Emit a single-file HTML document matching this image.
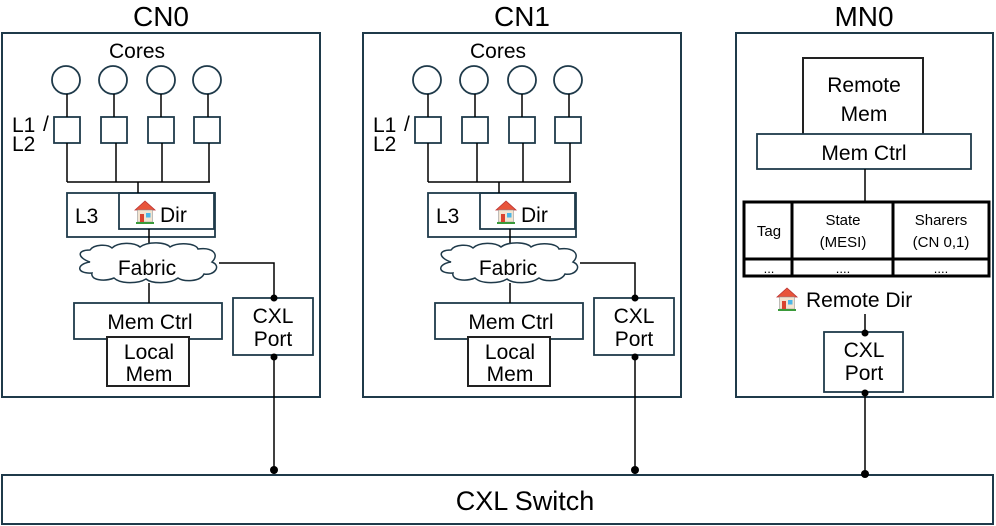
<!DOCTYPE html>
<html><head><meta charset="utf-8"><style>
html,body{margin:0;padding:0;background:#fff;}
svg{display:block;font-family:"Liberation Sans",sans-serif;}
</style></head><body>
<svg width="996" height="526" viewBox="0 0 996 526" xmlns="http://www.w3.org/2000/svg">
<defs>
<g id="house">
  <polygon points="0,9 10,0 20,9" fill="#e8553b" stroke="#b33" stroke-width="0.8"/>
  <rect x="2.5" y="9" width="15" height="12" fill="#f3e4d0" stroke="#999" stroke-width="0.6"/>
  <rect x="5" y="13" width="4" height="8" fill="#d9432e"/>
  <rect x="11" y="12" width="4.5" height="4.5" fill="#4ab6e8"/>
  <rect x="1" y="21" width="18" height="2" fill="#3a9a3a"/>
</g>
<g id="cn">
  <rect x="2" y="33" width="318" height="364" fill="none" stroke="#1f3a4a" stroke-width="2"/>
  <text x="137" y="58" font-size="21" text-anchor="middle">Cores</text>
  <g fill="none" stroke="#1f3a4a" stroke-width="1.8">
    <circle cx="66" cy="80" r="14"/><circle cx="113" cy="80" r="14"/><circle cx="161" cy="80" r="14"/><circle cx="207" cy="80" r="14"/>
    <rect x="54" y="117" width="26" height="26"/><rect x="101" y="117" width="26" height="26"/><rect x="148" y="117" width="26" height="26"/><rect x="194" y="117" width="26" height="26"/>
    <rect x="67" y="193" width="148" height="44"/>
    <rect x="119" y="193" width="95" height="36"/>
    <rect x="74" y="303" width="148" height="36"/>
    <rect x="233" y="298" width="80" height="57"/>
  </g>
  <rect x="107" y="337" width="82" height="49" fill="#fff" stroke="#222" stroke-width="2"/>
  <g stroke="#000" stroke-width="1.5" fill="none">
    <path d="M67 94V117M114 94V117M161 94V117M208 94V117"/>
    <path d="M67 143V182M116 143V182M162 143V182M209 143V182M67 182H210M138 182V193"/>
    <path d="M149 229V252M149 283V303M219 263H274V298M274 357V474"/>
  </g>
  <path d="M90 262 C78 258 76 250 90 250 C94 244 108 244 112 248 C118 242 134 242 140 247 C148 241 166 242 170 247 C178 242 196 243 198 249 C212 247 220 254 212 262 C222 266 214 276 204 274 C200 282 184 282 178 278 C170 284 152 284 146 279 C138 284 120 284 114 278 C104 282 90 280 92 273 C76 274 76 264 90 262Z" fill="#fff" stroke="#1f3a4a" stroke-width="1.5"/>
  <text x="147" y="275" font-size="21" text-anchor="middle">Fabric</text>
  <text x="75" y="223" font-size="21">L3</text>
  <use href="#house" x="135" y="201"/>
  <text x="160" y="222" font-size="21">Dir</text>
  <text x="12" y="132" font-size="21">L1</text>
  <text x="12" y="151" font-size="21">L2</text>
  <text x="43" y="131" font-size="21">/</text>
  <text x="150" y="329" font-size="21" text-anchor="middle">Mem Ctrl</text>
  <text x="149" y="359" font-size="21" text-anchor="middle">Local</text>
  <text x="149" y="381" font-size="21" text-anchor="middle">Mem</text>
  <text x="273" y="323" font-size="21" text-anchor="middle">CXL</text>
  <text x="273" y="346" font-size="21" text-anchor="middle">Port</text>
  <circle cx="274" cy="298" r="3.5"/><circle cx="274" cy="357" r="3.5"/><circle cx="274" cy="470" r="4"/>
</g>
</defs>
<text x="161" y="26" font-size="28" text-anchor="middle">CN0</text>
<text x="522" y="26" font-size="28" text-anchor="middle">CN1</text>
<text x="864" y="26" font-size="28" text-anchor="middle">MN0</text>
<use href="#cn"/>
<use href="#cn" x="361"/>
<!-- MN0 -->
<rect x="736" y="33" width="257" height="364" fill="none" stroke="#1f3a4a" stroke-width="2"/>
<rect x="803" y="58" width="120" height="80" fill="#fff" stroke="#222" stroke-width="2"/>
<text x="864" y="92" font-size="21" text-anchor="middle">Remote</text>
<text x="864" y="121" font-size="21" text-anchor="middle">Mem</text>
<rect x="757" y="134" width="214" height="35" fill="#fff" stroke="#1f3a4a" stroke-width="1.8"/>
<text x="864" y="160" font-size="21" text-anchor="middle">Mem Ctrl</text>
<path d="M865 169V202M865 314V333M865 393V474" stroke="#000" stroke-width="1.5"/>
<g fill="none" stroke="#000" stroke-width="3">
  <rect x="744" y="202" width="245" height="74"/>
  <path d="M792 202V276M893 202V276M744 259H989"/>
</g>
<text x="769" y="236" font-size="15" text-anchor="middle">Tag</text>
<text x="843" y="225" font-size="15" text-anchor="middle">State</text>
<text x="843" y="247" font-size="15" text-anchor="middle">(MESI)</text>
<text x="941" y="225" font-size="15" text-anchor="middle">Sharers</text>
<text x="941" y="247" font-size="15" text-anchor="middle">(CN 0,1)</text>
<text x="769" y="273" font-size="13" text-anchor="middle">...</text>
<text x="843" y="273" font-size="13" text-anchor="middle">....</text>
<text x="941" y="273" font-size="13" text-anchor="middle">....</text>
<use href="#house" x="777" y="288"/>
<text x="806" y="307" font-size="21">Remote Dir</text>
<rect x="824" y="332" width="79" height="60" fill="#fff" stroke="#1f3a4a" stroke-width="1.8"/>
<text x="864" y="357" font-size="21" text-anchor="middle">CXL</text>
<text x="864" y="380" font-size="21" text-anchor="middle">Port</text>
<circle cx="865" cy="333" r="3.5"/><circle cx="865" cy="393" r="3.5"/>
<!-- switch -->
<rect x="2" y="475" width="991" height="49" fill="none" stroke="#1f3a4a" stroke-width="2"/>
<text x="525" y="510" font-size="27" text-anchor="middle">CXL Switch</text>
<circle cx="865" cy="474" r="4"/>
</svg>
</body></html>
